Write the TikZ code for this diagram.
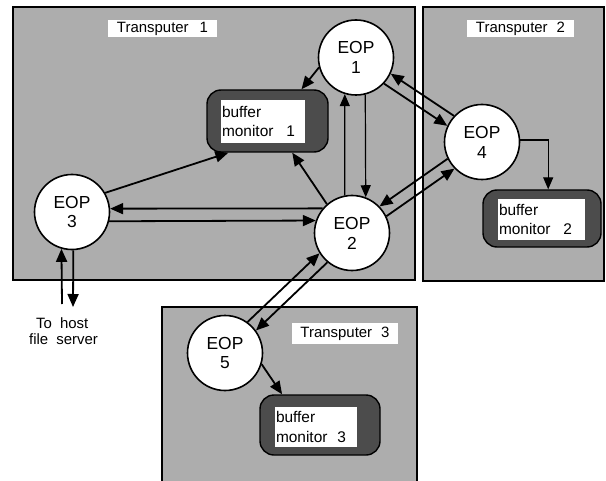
\documentclass[tikz,border=0pt]{standalone}
\usepackage{fontspec}
\setmainfont{Liberation Sans}
\usetikzlibrary{arrows.meta}
\begin{document}
\begin{tikzpicture}[x=1bp,y=-1bp,
  tbox/.style={fill=black!32,draw=none},
  tborder/.style={draw=black,line width=1.8bp},
  tlabel/.style={fill=white,inner sep=0pt,minimum height=17bp,font=\fontsize{15}{17}\selectfont},
  eop/.style={circle,draw=black,fill=white,line width=1.6bp,minimum size=75bp,inner sep=0pt,align=center,font=\fontsize{17.5}{20}\selectfont},
  bmouter/.style={rectangle,rounded corners=14bp,draw=black,fill=black!70,line width=1.4bp,inner sep=0pt},
  bminner/.style={rectangle,fill=white,inner xsep=1bp,inner ysep=0pt,align=left,font=\fontsize{15.5}{20}\selectfont},
  arr/.style={-{Triangle[length=13bp,width=11bp]},line width=1.8bp},
  tarr/.style={-{Triangle[length=12bp,width=10bp]},line width=1.2bp},
  hosttext/.style={align=left,inner sep=0pt,font=\fontsize{15}{17}\selectfont},
]
\useasboundingbox[fill=white] (0,0) rectangle (606,481);

% Transputer areas
\fill[tbox] (13,7) rectangle (415,280);
\draw[tborder] (13,7) rectangle (415,280);
\fill[tbox] (423,7) rectangle (604,281);
\draw[tborder] (423,7) rectangle (604,281);
\fill[tbox] (162,307) rectangle (417,481);
\draw[tborder] (162,481) -- (162,307) -- (417,307) -- (417,481);

% Labels
\node[tlabel,minimum width=109bp] (l1) at (162.5,28.5) {Transputer\hspace{11bp}1};
\node[tlabel,minimum width=107bp] (l2) at (520.5,28.5) {Transputer\hspace{9bp}2};
\node[tlabel,minimum width=106bp,minimum height=21bp] (l3) at (345,333.5) {Transputer\hspace{9bp}3};

% Buffer monitors
\node[bmouter,minimum width=121bp,minimum height=62bp] (bm1) at (267.5,121) {};
\node[bminner,text width=82bp,minimum height=43bp] (bm1t) at (263,121.5) {buffer\\monitor\hspace{13bp}1};
\node[bmouter,minimum width=118bp,minimum height=57bp] (bm2) at (542,218.5) {};
\node[bminner,text width=85bp,minimum height=41bp] (bm2t) at (541.5,219.5) {buffer\\monitor\hspace{13bp}2};
\node[bmouter,minimum width=120bp,minimum height=60bp] (bm3) at (320,425) {};
\node[bminner,text width=80bp,minimum height=40bp] (bm3t) at (316,427) {buffer\\monitor\hspace{10bp}3};

% EOPs
\node[eop] (e1) at (356,57.5) {EOP\\1};
\node[eop] (e2) at (352,233) {EOP\\2};
\node[eop] (e3) at (72,212) {EOP\\3};
\node[eop] (e4) at (482,142) {EOP\\4};
\node[eop] (e5) at (225,353) {EOP\\5};

% Host
\coordinate (hup) at (62,304);
\coordinate (hdn) at (73,307);
\node[hosttext,anchor=north west] (host) at (29,317) {\hspace{7bp}To\hspace{4bp} host\\file\hspace{4bp} server};

% Connectors
\draw[arr] (e1.195) -- (bm1.43);
\draw[tarr] (e2.101) -- (e1.-107);
\draw[tarr] (e1.-76) -- (e2.69);
\draw[arr] (e2.131) -- (bm1.-52);
\draw[arr] (e3.30) -- (bm1.-141);
\draw[arr] (e2.140) -- (e3.5);
\draw[arr] (e3.-14) -- (e2.161);
\draw[arr] (e4.137) -- (e1.-25);
\draw[arr] (e1.-43) -- (e4.155);
\draw[arr] (e4.206) -- (e2.44);
\draw[arr] (e2.26) -- (e4.224);
\draw[arr] (e5.54) -- (e2.212);
\draw[arr] (e2.230) -- (e5.36);
\draw[arr] (e5.-17) -- (bm3.141);
\draw[tarr] (e4.3) -| (bm2.78);
\draw[arr] (hup) -- (e3.-106);
\draw[arr] (e3.-88) -- (hdn);
\end{tikzpicture}
\end{document}
